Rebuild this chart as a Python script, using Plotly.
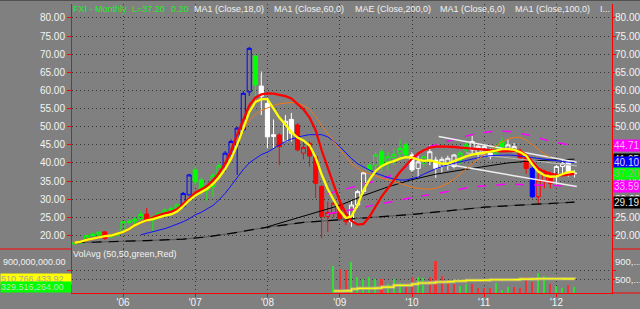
import pandas as pd
import plotly.graph_objects as go

# ---------------------------------------------------------------- data
months = pd.date_range("2005-05-01", "2012-04-01", freq="MS").strftime("%Y-%m-%d").tolist()

open_ = [17.7, 17.9, 18.8, 20.0, 20.1, 21.0, 19.6, 20.1,
         21.0, 23.6, 24.0, 24.7, 25.9, 24.3, 25.2, 26.1, 27.0, 27.5, 27.9, 31.2,
         38.1, 35.3, 32.5, 33.5, 36.5, 39.0, 42.7, 45.0, 49.1, 59.6, 69.5, 61.2,
         56.4, 47.3, 47.7, 46.0, 52.0, 50.5, 42.7, 45.4, 41.7, 33.5, 25.2, 26.1,
         28.4, 24.6, 23.8, 28.4, 32.1, 39.4, 39.4, 43.1, 40.3, 41.5, 42.7, 45.0,
         42.2, 38.5, 39.9, 40.8, 40.8, 39.0, 39.4, 39.0, 40.8, 43.6, 43.6, 42.8,
         43.0, 42.7, 42.7, 45.9, 44.0, 43.1, 43.1, 41.7, 38.5, 30.7, 34.8, 36.2,
         36.2, 39.0, 40.3, 37.0]
high = [18.2, 18.4, 20.1, 20.8, 21.1, 21.1, 20.3, 20.8,
        24.0, 24.5, 25.0, 26.8, 27.6, 25.4, 26.4, 27.4, 28.0, 28.8, 32.0, 37.0,
        39.0, 36.0, 34.0, 37.2, 39.8, 43.3, 46.5, 50.0, 59.8, 72.0, 69.8, 65.2,
        58.0, 52.0, 48.2, 53.2, 53.8, 51.0, 46.5, 46.0, 41.9, 34.0, 29.3, 30.0,
        29.4, 25.3, 29.8, 32.6, 37.5, 40.3, 43.0, 44.0, 43.0, 44.0, 46.5, 45.8,
        43.0, 41.9, 42.0, 45.0, 41.7, 41.7, 42.0, 42.5, 43.3, 46.0, 47.5, 45.0,
        45.0, 44.0, 45.4, 47.0, 46.5, 45.5, 44.0, 42.5, 39.0, 38.1, 38.1, 37.6,
        39.5, 41.0, 40.8, 38.0]
low = [17.5, 17.7, 18.6, 19.6, 19.9, 18.8, 19.4, 19.8,
       20.8, 23.0, 23.2, 24.2, 23.8, 21.3, 24.6, 25.6, 26.5, 27.0, 27.6, 31.0,
       33.9, 31.0, 29.6, 30.6, 35.8, 37.5, 41.5, 36.7, 48.5, 58.5, 56.9, 53.2,
       44.0, 44.0, 39.4, 45.9, 45.9, 43.2, 41.0, 39.0, 30.3, 19.3, 21.0, 25.0,
       24.2, 22.9, 22.4, 27.6, 31.5, 37.6, 38.0, 37.5, 38.0, 39.5, 41.5, 41.5,
       37.5, 36.0, 39.0, 39.4, 35.9, 37.3, 38.0, 38.5, 39.7, 43.0, 42.7, 41.0,
       41.7, 41.0, 41.7, 44.0, 43.0, 43.0, 41.0, 37.0, 30.3, 28.4, 33.0, 33.0,
       34.0, 37.0, 36.2, 36.0]
close = [18.0, 18.2, 20.0, 20.3, 20.9, 19.2, 20.0, 20.4,
         23.8, 23.9, 24.4, 25.8, 24.1, 25.2, 26.1, 27.0, 27.4, 28.4, 31.6, 36.7,
         34.8, 32.5, 33.5, 36.5, 39.2, 42.7, 45.9, 49.6, 59.2, 71.6, 61.5, 58.4,
         47.2, 47.8, 44.5, 51.5, 48.2, 43.6, 44.3, 41.9, 34.4, 25.2, 26.4, 28.9,
         24.7, 23.8, 28.4, 32.1, 37.3, 38.1, 42.2, 39.0, 41.7, 42.4, 44.0, 42.2,
         38.1, 40.3, 41.7, 43.1, 38.5, 41.0, 41.3, 42.2, 42.7, 45.0, 45.9, 44.6,
         44.5, 41.8, 44.5, 44.5, 45.0, 44.5, 41.3, 38.5, 30.7, 35.3, 37.1, 34.4,
         39.0, 39.9, 37.0, 37.2]
trend = ["up", "up", "up", "up", "up", "down", "up", "up",
         "up", "up", "up", "up", "down", "up", "up", "up", "up", "up", "strong", "strong",
         "up", "up", "up", "up", "up", "strong", "strong", "strong", "strong", "strong", "up", "flat",
         "flat", "flat", "down", "flat", "flat", "down", "down", "down", "down", "down", "down", "down",
         "down", "down", "flat", "flat", "flat", "up", "up", "up", "up", "up", "up", "up",
         "flat", "flat", "up", "flat", "flat", "flat", "flat", "flat", "up", "up", "flat", "flat",
         "flat", "flat", "up", "up", "flat", "flat", "down", "down", "strong", "down", "down", "down",
         "flat", "flat", "flat", "flat"]

ma_fast = [18.0, 18.3, 18.8, 19.2, 19.6, 19.8, 20.0, 20.4,
           21.0, 21.8, 22.8, 23.6, 24.2, 24.5, 25.0, 25.5, 25.8, 26.6, 28.0, 29.7,
           31.0, 32.0, 32.8, 34.2, 36.0, 38.3, 41.2, 45.0, 49.5, 54.0, 56.8, 57.6,
           57.6, 55.0, 52.5, 50.6, 48.5, 47.0, 46.2, 44.8, 41.5, 36.8, 32.8, 29.8,
           26.8, 24.8, 25.3, 28.5, 32.5, 35.5, 37.8, 39.2, 40.0, 40.5, 41.2, 41.6,
           41.5, 40.9, 40.6, 40.7, 40.2, 39.8, 39.8, 40.5, 41.2, 41.8, 42.3, 42.5,
           42.8, 43.1, 43.4, 43.8, 43.8, 43.6, 43.0, 42.0, 39.6, 37.6, 36.6, 36.2,
           36.3, 37.0, 37.5, 37.6]
ma_slow = [18.0, 18.3, 18.8, 19.2, 19.6, 19.8, 20.0, 20.4,
           21.0, 21.8, 22.8, 23.6, 24.3, 24.9, 25.6, 26.1, 26.5, 27.2, 28.6, 30.2,
           31.8, 32.7, 33.6, 35.2, 37.2, 39.8, 43.3, 47.8, 52.0, 55.8, 58.0, 58.9,
           59.2, 59.1, 58.8, 58.4, 57.8, 56.4, 54.8, 52.5, 49.0, 43.5, 38.5, 34.0,
           29.5, 26.0, 24.0, 23.0, 23.2, 25.3, 28.0, 30.8, 33.0, 35.2, 37.5, 39.3,
           41.2, 42.6, 43.5, 44.2, 44.5, 44.6, 44.6, 44.4, 44.2, 44.0, 43.8, 43.8,
           43.7, 43.5, 43.3, 43.2, 43.3, 43.4, 43.3, 42.2, 40.2, 38.5, 37.6, 37.0,
           36.8, 36.6, 36.8, 37.0]
ma_blue_months = months[11:]
ma_blue = [20.2, 20.6, 21.0, 21.4, 21.9, 22.5, 23.1, 23.8, 24.6,
           25.7, 26.4, 27.2, 28.3, 29.8, 31.6, 33.7, 36.0, 38.2, 40.0, 41.2, 42.3,
           43.0, 44.0, 45.0, 45.9, 46.6, 47.1, 47.5, 47.8, 47.9, 47.8, 47.2, 46.0,
           44.5, 42.8, 41.2, 39.8, 38.8, 38.0, 37.2, 36.5, 36.0, 35.6, 35.3, 35.3,
           35.6, 36.1, 36.9, 37.7, 38.4, 39.0, 39.5, 39.9, 40.3, 40.7, 41.1, 41.5,
           41.8, 42.0, 42.1, 42.2, 42.2, 42.1, 41.9, 41.7, 41.4, 41.1, 40.9, 40.7,
           40.5, 40.3, 40.2, 40.1]
ma_orange_months = months[26:80]
ma_orange = [40.5, 45.0, 49.0, 51.8, 53.5, 54.5,
             55.2, 55.8, 56.3, 56.6, 56.7, 56.4, 55.9, 54.8, 52.8, 50.3, 48.2, 46.0,
             43.8, 41.6, 39.8, 38.6, 37.6, 37.0, 36.3, 35.8, 35.4, 34.9, 34.4, 34.0,
             33.3, 33.0, 32.8, 32.8, 33.0, 33.6, 34.4, 35.5, 37.0, 38.3, 39.8, 41.0,
             42.3, 43.6, 44.7, 45.8, 46.6, 47.0, 47.1, 46.3, 45.0, 43.6, 42.5, 41.6]

ma200_months = ["2005-05-01", "2005-11-01", "2006-05-01", "2006-11-01", "2007-03-01", "2007-07-01",
                "2008-01-01", "2008-07-01", "2009-01-01", "2009-07-01", "2010-01-01", "2010-07-01",
                "2011-01-01", "2011-07-01", "2012-01-01", "2012-04-01"]
ma200 = [18.0, 18.2, 18.6, 19.0, 19.6, 20.6, 22.3, 23.6, 24.4, 25.2, 25.8, 26.8, 27.8, 28.4, 28.9, 29.19]

ma100_months = ["2008-01-01", "2008-05-01", "2008-09-01", "2009-01-01", "2009-05-01", "2009-09-01",
                "2010-01-01", "2010-05-01", "2010-09-01", "2011-01-01", "2011-05-01", "2011-09-01",
                "2012-01-01", "2012-04-01"]
ma100 = [22.4, 24.3, 26.2, 28.3, 31.0, 33.4, 35.4, 36.9, 38.0, 39.0, 40.0, 40.6, 40.9, 41.05]

env_up_months = ["2008-11-01", "2009-02-01", "2009-05-01", "2009-08-01", "2009-11-01", "2010-01-01",
                 "2010-03-01", "2010-06-01", "2010-09-01", "2010-12-01", "2011-03-01", "2011-06-01",
                 "2011-09-01", "2011-12-01", "2012-04-01"]
env_upper = [31.5, 32.8, 34.0, 35.5, 37.5, 40.5, 44.0, 45.5, 47.0, 48.2, 48.8, 48.6, 47.4, 46.0, 44.71]
env_lo_months = ["2008-11-01", "2009-02-01", "2009-05-01", "2009-08-01", "2009-11-01", "2010-02-01",
                 "2010-05-01", "2010-08-01", "2010-11-01", "2011-02-01", "2011-05-01", "2011-08-01",
                 "2011-11-01", "2012-04-01"]
env_lower = [26.0, 26.8, 27.8, 28.8, 30.0, 30.8, 31.5, 32.5, 33.4, 33.8, 34.2, 34.0, 33.8, 33.59]

channel_upper_months = ["2010-05-16", "2012-04-13"]
channel_upper = [47.3, 40.2]
channel_lower_months = ["2010-06-01", "2012-04-13"]
channel_lower = [39.9, 33.5]
channel_mid_months = ["2010-10-01", "2012-04-13"]
channel_mid = [42.8, 39.2]

vol_months = months[43:]
volume_m = [816, 740, 716, 895, 560, 500, 547, 500, 500, 384, 500, 407, 328, 560, 560, 537,
            560, 933, 584, 484, 384, 351, 384, 384, 291, 305, 291, 407, 251, 328, 314, 305,
            547, 444, 640, 577, 391, 351, 305, 367, 329.516264]
vol_dir = ["up", "down", "down", "up", "up", "up", "up", "up", "down", "up", "up", "up", "down",
           "down", "up", "up", "down", "down", "down", "down", "down", "up", "up", "down", "down",
           "down", "down", "up", "up", "up", "down", "down", "down", "down", "up", "up", "down",
           "up", "up", "down", "up"]
vol_avg_m = [228, 228, 232, 275, 290, 290, 290, 295, 320, 320, 360, 360, 362, 390, 414, 414,
             420, 437, 437, 445, 460, 462, 477, 477, 477, 480, 490, 490, 490, 490, 492, 505,
             505, 508, 513, 513, 513, 513, 512, 511, 510.76643392]

year_ticks = ["2006-01-01", "2007-01-01", "2008-01-01", "2009-01-01", "2010-01-01", "2011-01-01", "2012-01-01"]
year_labels = ["'06", "'07", "'08", "'09", "'10", "'11", "'12"]
price_ticks = [20, 25, 30, 35, 40, 45, 50, 55, 60, 65, 70, 75, 80]
legend_items = ["MA1 (Close,18,0)", "MA1 (Close,60,0)", "MAE (Close,200,0)", "MA1 (Close,6,0)",
                "MA1 (Close,100,0)", "I..."]

# ---------------------------------------------------------------- layout helpers
W, H = 640, 309
ML, MR, MT, MB = 72, 28, 4, 16
PW, PH = W - ML - MR, H - MT - MB
BG = "#808080"
GRID = "#363636"
DOT = "1px,3px"
FONT = "Liberation Sans, Arial, sans-serif"


def px(x):
    return (x - ML) / PW


def py(y):
    return (H - MB - y) / PH


split = py(249)
vol_to_px = 0.043  # px per million shares
vol_range = [(300.8 - (H - MB)) / vol_to_px * 1e6, (300.8 - 249) / vol_to_px * 1e6]
price_range = [20 - (249 - 235.5) / 3.627, 20 + (235.5 - MT) / 3.627]

state_color = {"up": "#00ff00", "strong": "#0000ff", "flat": "#ffffff", "down": "#ff0000"}

fig = go.Figure()

# slow MA (black dashes over dark grey)
fig.add_trace(go.Scatter(x=ma200_months, y=ma200, mode="lines", line=dict(color="#5c5c5c", width=1.2)))
fig.add_trace(go.Scatter(x=ma200_months, y=ma200, mode="lines",
                         line=dict(color="#000000", width=1.2, dash="10px,7px")))
# envelope
fig.add_trace(go.Scatter(x=env_up_months, y=env_upper, mode="lines",
                         line=dict(color="#ff00ff", width=1.5, dash="9px,10px")))
fig.add_trace(go.Scatter(x=env_lo_months, y=env_lower, mode="lines",
                         line=dict(color="#ff00ff", width=1.5, dash="9px,10px")))
# thin black MA
fig.add_trace(go.Scatter(x=ma100_months, y=ma100, mode="lines", line=dict(color="#000000", width=1)))
# channel
fig.add_trace(go.Scatter(x=channel_upper_months, y=channel_upper, mode="lines",
                         line=dict(color="#eeeeee", width=1.5)))
fig.add_trace(go.Scatter(x=channel_lower_months, y=channel_lower, mode="lines",
                         line=dict(color="#eeeeee", width=1.5)))
fig.add_trace(go.Scatter(x=channel_mid_months, y=channel_mid, mode="lines",
                         line=dict(color="#b8b8b8", width=1.2)))
# blue & orange MAs
fig.add_trace(go.Scatter(x=ma_blue_months, y=ma_blue, mode="lines", line=dict(color="#1010ff", width=1)))
fig.add_trace(go.Scatter(x=ma_orange_months, y=ma_orange, mode="lines", line=dict(color="#f07818", width=1)))

# candles
for st, col in state_color.items():
    idx = [i for i, s in enumerate(trend) if s == st]
    fig.add_trace(go.Candlestick(
        x=[months[i] for i in idx],
        open=[open_[i] for i in idx], high=[high[i] for i in idx],
        low=[low[i] for i in idx], close=[close[i] for i in idx],
        increasing=dict(line=dict(color=col, width=1), fillcolor="rgba(0,0,0,0)"),
        decreasing=dict(line=dict(color=col, width=1), fillcolor=col),
        whiskerwidth=0, hoverinfo="skip"))

# fast MAs on top
fig.add_trace(go.Scatter(x=months, y=ma_slow, mode="lines", line=dict(color="#ff0000", width=2.3), yaxis="y3"))
fig.add_trace(go.Scatter(x=months, y=ma_fast, mode="lines", line=dict(color="#ffff00", width=2.3), yaxis="y3"))

# volume
vol_cols = {"up": "#33dd33", "down": "#ee3535"}
for d, col in vol_cols.items():
    idx = [i for i, s in enumerate(vol_dir) if s == d]
    fig.add_trace(go.Bar(x=[vol_months[i] for i in idx], y=[volume_m[i] * 1e6 for i in idx],
                         marker=dict(color=col, line=dict(width=0)), width=8 * 86400000,
                         yaxis="y2", hoverinfo="skip"))
vol_avg = [v * 1e6 for v in vol_avg_m]
fig.add_trace(go.Scatter(x=vol_months, y=vol_avg, mode="lines", line=dict(color="#bcb878", width=3, shape="hv"),
                         yaxis="y4"))
fig.add_trace(go.Scatter(x=vol_months, y=vol_avg, mode="lines", line=dict(color="#ffff00", width=1.2, shape="hv"),
                         yaxis="y4"))

axis_common = dict(zeroline=False, ticks="outside", tickcolor="#ff0000", ticklen=4, showline=True,
                   linecolor="#ff0000", linewidth=1, automargin=False,
                   tickfont=dict(family=FONT, size=10, color="#f4f4f4"))
right_common = dict(axis_common, ticklen=3, ticklabelstandoff=-3)

fig.update_layout(
    width=W, height=H, margin=dict(l=ML, r=MR, t=MT, b=MB, pad=0, autoexpand=False),
    paper_bgcolor=BG, plot_bgcolor=BG, showlegend=False, hovermode=False,
    boxgap=0.22, boxgroupgap=0.05, bargap=0,
    font=dict(family=FONT, size=10, color="#f4f4f4"),
    xaxis=dict(type="date", range=["2005-04-18", "2012-10-08"], anchor="y2", automargin=False,
               tickvals=year_ticks, ticktext=year_labels, ticks="outside", tickcolor="#ff0000", ticklen=3,
               ticklabelstandoff=-3,
               showline=True, linecolor="#ff0000", showgrid=True, gridcolor=GRID, griddash=DOT,
               zeroline=False, rangeslider=dict(visible=False),
               tickfont=dict(family=FONT, size=10, color="#f4f4f4")),
    yaxis=dict(domain=[split, 1], range=price_range, tickvals=price_ticks, tickformat=".2f",
               showgrid=True, gridcolor=GRID, griddash=DOT, side="left", **axis_common),
    yaxis3=dict(overlaying="y", side="right", range=price_range, tickvals=price_ticks, tickformat=".2f",
                showgrid=False, **right_common),
    yaxis2=dict(domain=[0, split], range=vol_range, tickvals=[500e6, 700e6], showticklabels=False,
                showgrid=True, gridcolor=GRID, griddash=DOT, side="left", **axis_common),
    yaxis4=dict(overlaying="y2", side="right", range=vol_range, tickvals=[500e6, 700e6],
                showticklabels=False, showgrid=False, **right_common),
)

# ---------------------------------------------------------------- annotations
ann = []
last_close = close[-1]
chg = close[-1] - close[-2]
tfont = dict(family=FONT, size=9)
ann.append(dict(text="FXI - Monthly", x=px(71), y=py(8.5), xanchor="left", yanchor="middle",
                font=dict(tfont, color="#22ee22")))
ann.append(dict(text=f"L={last_close:.2f}", x=px(130), y=py(8.5), xanchor="left", yanchor="middle",
                font=dict(tfont, color="#22ee22")))
ann.append(dict(text=f"{chg:.2f}", x=px(169), y=py(8.5), xanchor="left", yanchor="middle",
                font=dict(tfont, color="#22ee22")))
for txt, xp in zip(legend_items, [192, 272, 353, 438, 513, 598]):
    ann.append(dict(text=txt, x=px(xp), y=py(8.5), xanchor="left", yanchor="middle",
                    font=dict(tfont, color="#f2f2f2")))
ann.append(dict(text="VolAvg (50,50,green,Red)", x=px(71), y=py(253.5), xanchor="left", yanchor="middle",
                font=dict(tfont, color="#f2f2f2")))
ann.append(dict(text="900,000,000.00", x=px(68), y=py(261.5), xanchor="right", yanchor="middle",
                font=dict(family=FONT, size=9, color="#f2f2f2")))
ann.append(dict(text="900,...", x=px(613), y=py(261.5), xanchor="left", yanchor="middle",
                font=dict(family=FONT, size=9.5, color="#f2f2f2")))
ann.append(dict(text="500,...", x=px(613), y=py(279.3), xanchor="left", yanchor="middle",
                font=dict(family=FONT, size=9.5, color="#f2f2f2")))

# right-hand value boxes (drawn in stacking order, later ones on top)
boxes = [
    (env_upper[-1], "#ff00ff", "#ffb8ff"),
    (ma100[-1], "#000000", "#e0e0e0"),
    (ma_blue[-1], "#0000ff", "#d8d8ff"),
    (close[-1], "#00ff00", "#90b090"),
    (env_lower[-1], "#ff00ff", "#ffb8ff"),
    (ma200[-1], "#000000", "#e8e8e8"),
]
for val, bg, fg in boxes:
    ann.append(dict(text=f"{val:.2f}", x=px(613), xref="paper", y=val, yref="y", xanchor="left",
                    yanchor="middle", width=27, height=11, bgcolor=bg, borderpad=0, align="left",
                    font=dict(family=FONT, size=10, color=fg)))
# left-hand volume boxes
ann.append(dict(text=f"{vol_avg_m[-1] * 1e6:,.2f}", x=px(0), xref="paper", y=vol_avg[-1], yref="y2",
                xanchor="left", yanchor="middle", width=70, height=10, bgcolor="#ffff00", borderpad=0,
                align="left", font=dict(family=FONT, size=9, color="#a8a890")))
ann.append(dict(text=f"{volume_m[-1] * 1e6:,.2f}", x=px(0), xref="paper", y=volume_m[-1] * 1e6, yref="y2",
                xanchor="left", yanchor="middle", width=70, height=10, bgcolor="#00ff00", borderpad=0,
                align="left", font=dict(family=FONT, size=9, color="#b8e8b8")))
for a in ann:
    a.setdefault("xref", "paper")
    a.setdefault("yref", "paper")
    a["showarrow"] = False
fig.update_layout(annotations=ann)

shapes = [
    dict(type="line", xref="paper", yref="paper", x0=px(0), x1=px(640), y0=py(0.5), y1=py(0.5),
         line=dict(color="#505050", width=1)),
    dict(type="line", xref="paper", yref="paper", x0=px(0), x1=px(72), y0=split, y1=split,
         line=dict(color="#ff0000", width=1)),
    dict(type="line", xref="paper", yref="paper", x0=px(612), x1=px(640), y0=split, y1=split,
         line=dict(color="#ff0000", width=1)),
    dict(type="line", xref="paper", yref="paper", x0=px(612), x1=px(640), y0=0, y1=0,
         line=dict(color="#ff0000", width=1)),
]
fig.update_layout(shapes=shapes)

fig.write_html("out.html", config={"displayModeBar": False})
